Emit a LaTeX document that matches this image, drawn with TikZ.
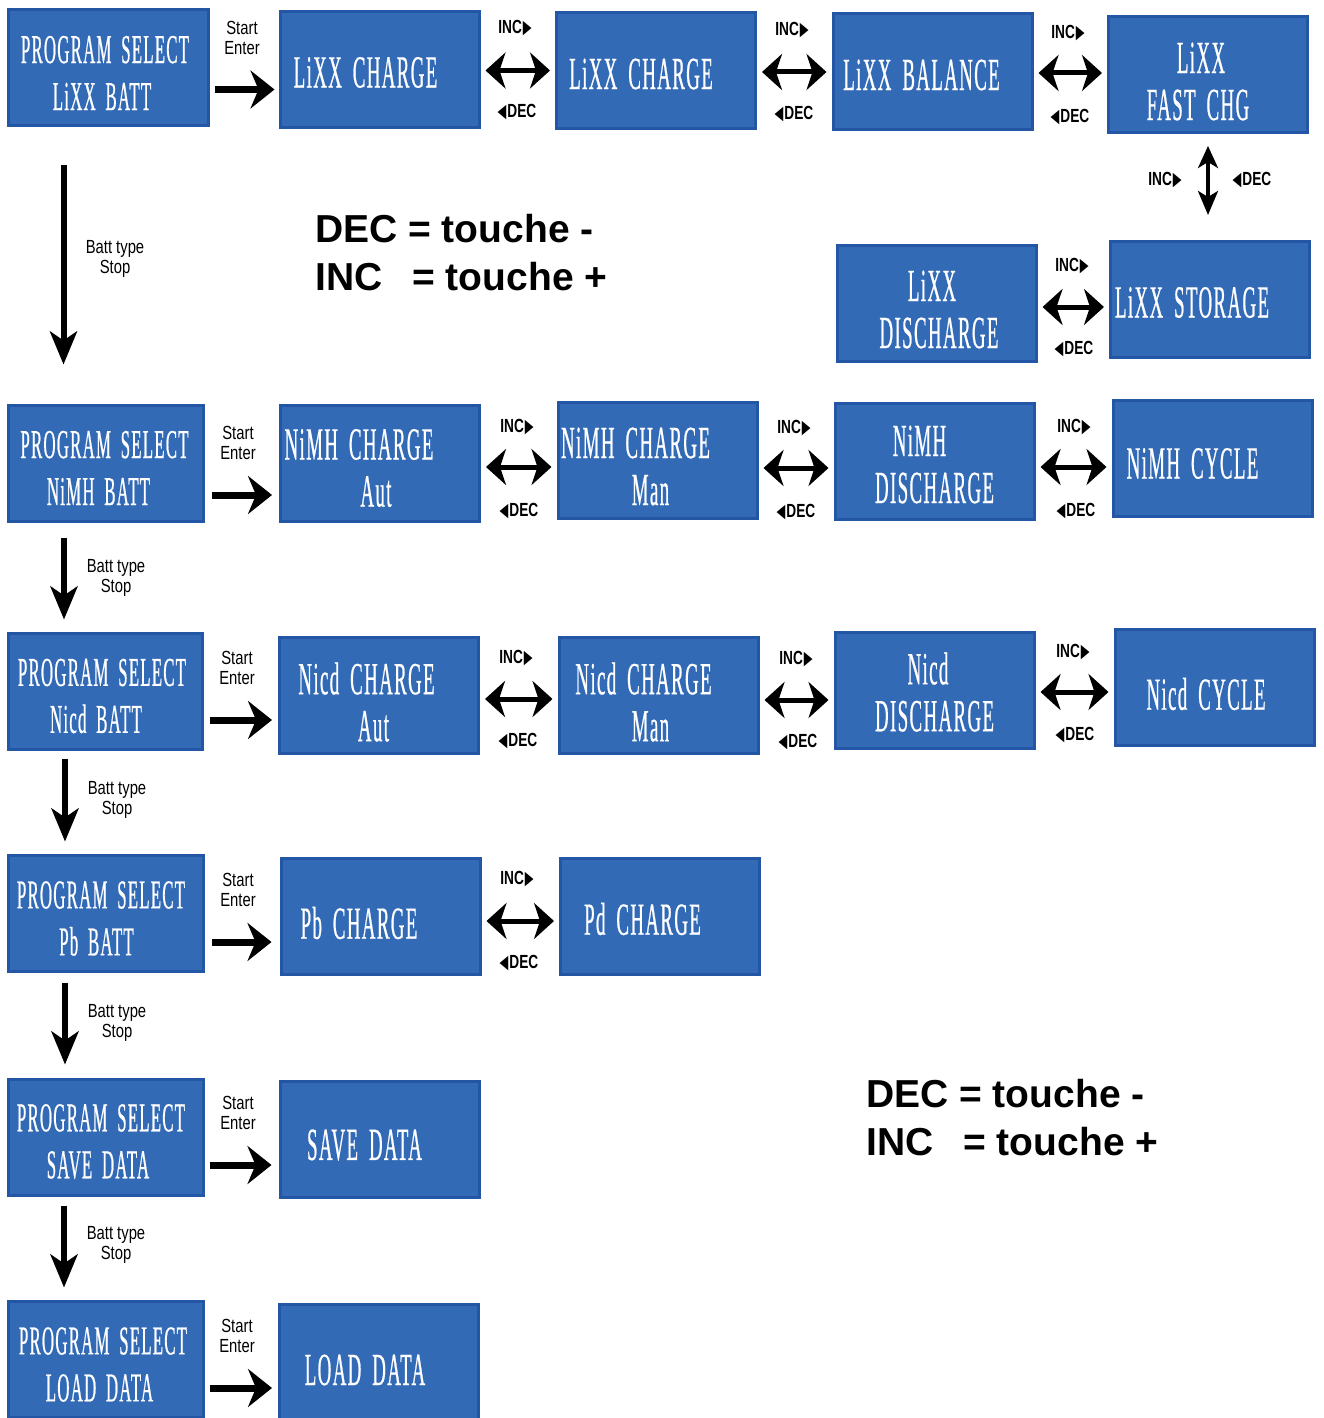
\documentclass[tikz,border=0pt]{standalone}
\usepackage{fontspec}
\setmainfont{Liberation Serif}
\newfontfamily\boxfont{Liberation Serif}[FakeStretch=0.41, LetterSpace=3, WordSpace=1.8, FakeBold=0.5]
\newfontfamily\lblfont{Liberation Sans}[FakeStretch=0.78]
\newfontfamily\incfont{Liberation Sans}[FakeStretch=0.72]
\newfontfamily\trifont{DejaVu Sans}[FakeStretch=0.6]
\newfontfamily\bigfont{Liberation Sans}
\usetikzlibrary{arrows.meta}
\definecolor{boxfill}{RGB}{50,106,182}
\definecolor{boxline}{RGB}{36,86,166}
\tikzset{
  box/.style={draw=boxline, fill=boxfill, line width=3pt, minimum width=199pt, minimum height=116pt, inner sep=0pt},
  psbox/.style={box, minimum width=195pt},
  btxt/.style={text=white, font=\boxfont\fontsize{46}{47}\selectfont, align=center, inner sep=0pt},
  pstxt/.style={btxt, font=\boxfont\fontsize{41}{47}\selectfont},
  sarrow/.style={line width=7pt, -{Stealth[length=24pt,width=38pt,inset=8pt]}},
  varrow/.style={line width=6pt, -{Stealth[length=33pt,width=27pt,inset=9pt]}},
  dbl/.style={line width=5pt, shorten <=5pt, shorten >=5pt, {Stealth[length=20pt,width=36pt,inset=6pt]}-{Stealth[length=20pt,width=36pt,inset=6pt]}},
  vdbl/.style={line width=3.5pt, {Stealth[length=22pt,width=20pt,inset=6pt]}-{Stealth[length=24pt,width=20pt,inset=6pt]}},
  small/.style={font=\lblfont\fontsize{19}{20.5}\selectfont, align=center, inner sep=0pt},
  inc/.style={font=\incfont\bfseries\fontsize{19}{20}\selectfont, inner sep=0pt},
  big/.style={font=\bigfont\bfseries\fontsize{39}{48}\selectfont, anchor=base west, inner sep=0pt}
}
\newcommand{\incl}{INC\kern1pt{\trifont ▶}}
\newcommand{\decl}{{\trifont ◀}\kern1pt DEC}
\begin{document}
\begin{tikzpicture}[x=1pt,y=-1pt]
\fill[white] (0,0) rectangle (1324,1418);
\useasboundingbox (0,0) rectangle (1324,1418);

% ---- boxes ----
\node[box, minimum width=200pt] (ps1) at (108.5,67.5) {};
\node[box] (l1) at (379.5,69.5) {};
\node[box] (l2) at (656,71) {};
\node[box] (l3) at (932.5,72) {};
\node[box] (l4) at (1208,74.5) {};
\node[box] (l5) at (1210,299.5) {};
\node[box] (l6) at (936.5,303.5) {};
\node[psbox] (ps2) at (106,463) {};
\node[box] (n1) at (380,463) {};
\node[box] (n2) at (657.5,460.5) {};
\node[box] (n3) at (934.5,461.5) {};
\node[box] (n4) at (1212.5,458.5) {};
\node[psbox, minimum width=194pt] (ps3) at (105.5,691) {};
\node[box] (c1) at (379,695) {};
\node[box] (c2) at (658.5,695) {};
\node[box] (c3) at (934.5,690) {};
\node[box] (c4) at (1214.5,687) {};
\node[psbox] (ps4) at (106,913) {};
\node[box] (p1) at (380.5,916) {};
\node[box] (p2) at (660,916) {};
\node[psbox] (ps5) at (106,1137) {};
\node[box] (s1) at (379.5,1139.5) {};
\node[psbox] (ps6) at (106,1359) {};
\node[box] (d1) at (379,1362) {};

% ---- box texts ----
\node[pstxt] (tps1) at ([shift={(-3.5,5.5)}]ps1.center) {PROGRAM SELECT\\LiXX BATT\rule{6pt}{0pt}};
\node[btxt] (tl1) at ([shift={(-14,3)}]l1.center) {LiXX CHARGE};
\node[btxt] (tl2) at ([shift={(-15,3)}]l2.center) {LiXX CHARGE};
\node[btxt] (tl3) at ([shift={(-11,3)}]l3.center) {LiXX BALANCE};
\node[btxt] (tl4) at ([shift={(-10,7)}]l4.center) {\rule{6pt}{0pt}LiXX\\FAST CHG};
\node[btxt] (tl5) at ([shift={(-18,3)}]l5.center) {LiXX STORAGE};
\node[btxt] (tl6) at ([shift={(2.5,6)}]l6.center) {LiXX\rule{14pt}{0pt}\\DISCHARGE};
\node[pstxt] (tps2) at ([shift={(-1.5,5)}]ps2.center) {PROGRAM SELECT\\NiMH BATT\rule{12pt}{0pt}};
\node[btxt] (tn1) at ([shift={(-21,5)}]n1.center) {NiMH CHARGE\\\rule{34pt}{0pt}Aut};
\node[btxt] (tn2) at ([shift={(-22,6)}]n2.center) {NiMH CHARGE\\\rule{30pt}{0pt}Man};
\node[btxt] (tn3) at ([shift={(0,3)}]n3.center) {NiMH\rule{30pt}{0pt}\\DISCHARGE};
\node[btxt] (tn4) at ([shift={(-20,5)}]n4.center) {NiMH CYCLE};
\node[pstxt] (tps3) at ([shift={(-3.5,5)}]ps3.center) {PROGRAM SELECT\\Nicd BATT\rule{12pt}{0pt}};
\node[btxt] (tc1) at ([shift={(-12.5,7)}]c1.center) {Nicd CHARGE\\\rule{14pt}{0pt}Aut};
\node[btxt] (tc2) at ([shift={(-15,7)}]c2.center) {Nicd CHARGE\\\rule{14pt}{0pt}Man};
\node[btxt] (tc3) at ([shift={(0,2)}]c3.center) {Nicd\rule{13pt}{0pt}\\DISCHARGE};
\node[btxt] (tc4) at ([shift={(-8.5,7)}]c4.center) {Nicd CYCLE};
\node[pstxt] (tps4) at ([shift={(-5,5.5)}]ps4.center) {PROGRAM SELECT\\Pb BATT\rule{9pt}{0pt}};
\node[btxt] (tp1) at ([shift={(-21.5,7)}]p1.center) {Pb CHARGE};
\node[btxt] (tp2) at ([shift={(-17.5,3)}]p2.center) {Pd CHARGE};
\node[pstxt] (tps5) at ([shift={(-5,4.5)}]ps5.center) {PROGRAM SELECT\\SAVE DATA\rule{6pt}{0pt}};
\node[btxt] (ts1) at ([shift={(-15,5.5)}]s1.center) {SAVE DATA};
\node[pstxt] (tps6) at ([shift={(-3,5.5)}]ps6.center) {PROGRAM SELECT\\LOAD DATA\rule{7pt}{0pt}};
\node[btxt] (td1) at ([shift={(-14,8)}]d1.center) {LOAD DATA};

% ---- Start / Enter arrows ----
\draw[sarrow, shorten <=5pt, shorten >=4pt] ([yshift=-22pt]ps1.east) -- ([yshift=-22pt]ps1.east -| l1.west);
\draw[sarrow, shorten <=7pt, shorten >=7pt] ([yshift=-32pt]ps2.east) -- ([yshift=-32pt]ps2.east -| n1.west);
\draw[sarrow, shorten <=6pt, shorten >=6pt] ([yshift=-29pt]ps3.east) -- ([yshift=-29pt]ps3.east -| c1.west);
\draw[sarrow, shorten <=7pt, shorten >=8pt] ([yshift=-29pt]ps4.east) -- ([yshift=-29pt]ps4.east -| p1.west);
\draw[sarrow, shorten <=5pt, shorten >=7pt] ([yshift=-28pt]ps5.east) -- ([yshift=-28pt]ps5.east -| s1.west);
\draw[sarrow, shorten <=5pt, shorten >=6pt] ([yshift=-29pt]ps6.east) -- ([yshift=-29pt]ps6.east -| d1.west);
\node[small] (se1) at (242,38) {Start\\Enter};
\node[small] (se2) at (238,443) {Start\\Enter};
\node[small] (se3) at (237,668) {Start\\Enter};
\node[small] (se4) at (238,890) {Start\\Enter};
\node[small] (se5) at (238,1113) {Start\\Enter};
\node[small] (se6) at (237,1336) {Start\\Enter};

% ---- Batt type / Stop arrows ----
\draw[varrow, shorten <=38pt, shorten >=39pt] ([xshift=-45pt]ps1.south) -- ([xshift=-45pt]ps1.south |- ps2.north);
\draw[varrow, shorten <=15pt, shorten >=12pt] ([xshift=-42pt]ps2.south) -- ([xshift=-42pt]ps2.south |- ps3.north);
\draw[varrow, shorten <=8pt, shorten >=12pt] ([xshift=-40.5pt]ps3.south) -- ([xshift=-40.5pt]ps3.south |- ps4.north);
\draw[varrow, shorten <=10pt, shorten >=13pt] ([xshift=-41pt]ps4.south) -- ([xshift=-41pt]ps4.south |- ps5.north);
\draw[varrow, shorten <=9pt, shorten >=12pt] ([xshift=-42pt]ps5.south) -- ([xshift=-42pt]ps5.south |- ps6.north);
\node[small] (bt1) at (115,259) {Batt type\\Stop};
\node[small] (bt2) at (116,578) {Batt type\\Stop};
\node[small] (bt3) at (117,800) {Batt type\\Stop};
\node[small] (bt4) at (117,1023) {Batt type\\Stop};
\node[small] (bt5) at (116,1245) {Batt type\\Stop};

% ---- INC / DEC double arrows ----
\draw[dbl] ([yshift=-1pt]l1.east) -- ([yshift=-1pt]l1.east -| l2.west);
\draw[dbl] ([yshift=-1pt]l2.east) -- ([yshift=-1pt]l2.east -| l3.west);
\draw[dbl] ([yshift=-1pt]l3.east) -- ([yshift=-1pt]l3.east -| l4.west);
\draw[dbl] ([yshift=-3.5pt]l6.east) -- ([yshift=-3.5pt]l6.east -| l5.west);
\draw[dbl] ([yshift=-4pt]n1.east) -- ([yshift=-4pt]n1.east -| n2.west);
\draw[dbl] ([yshift=-7.5pt]n2.east) -- ([yshift=-7.5pt]n2.east -| n3.west);
\draw[dbl] ([yshift=-5.5pt]n3.east) -- ([yshift=-5.5pt]n3.east -| n4.west);
\draw[dbl] ([yshift=-4pt]c1.east) -- ([yshift=-4pt]c1.east -| c2.west);
\draw[dbl] ([yshift=-5pt]c2.east) -- ([yshift=-5pt]c2.east -| c3.west);
\draw[dbl] ([yshift=-2pt]c3.east) -- ([yshift=-2pt]c3.east -| c4.west);
\draw[dbl] ([yshift=-5pt]p1.east) -- ([yshift=-5pt]p1.east -| p2.west);
\draw[vdbl, shorten <=12pt, shorten >=25pt] (l4.south) -- (l4.south |- l5.north);

\node[inc] (i1a) at (515,28) {\incl};   \node[inc] (d1a) at (517,112) {\decl};
\node[inc] (i1b) at (792,30) {\incl};   \node[inc] (d1b) at (794,114) {\decl};
\node[inc] (i1c) at (1068,33) {\incl};  \node[inc] (d1c) at (1070,117) {\decl};
\node[inc] (ivv) at (1165,180) {\incl}; \node[inc] (dvv) at (1252,180) {\decl};
\node[inc] (i1d) at (1072,266) {\incl}; \node[inc] (d1d) at (1074,349) {\decl};
\node[inc] (i2a) at (517,427) {\incl};  \node[inc] (d2a) at (519,511) {\decl};
\node[inc] (i2b) at (794,428) {\incl};  \node[inc] (d2b) at (796,512) {\decl};
\node[inc] (i2c) at (1074,427) {\incl}; \node[inc] (d2c) at (1076,511) {\decl};
\node[inc] (i3a) at (516,658) {\incl};  \node[inc] (d3a) at (518,741) {\decl};
\node[inc] (i3b) at (796,659) {\incl};  \node[inc] (d3b) at (798,742) {\decl};
\node[inc] (i3c) at (1073,652) {\incl}; \node[inc] (d3c) at (1075,735) {\decl};
\node[inc] (i4a) at (517,879) {\incl};  \node[inc] (d4a) at (519,963) {\decl};

% ---- legend texts ----
\node[big] (leg1a) at (315,242) {DEC = touche -};
\node[big] (leg1b) at (315,290) {\makebox[2.49em][l]{INC}= touche +};
\node[big] (leg2a) at (866,1107) {DEC = touche -};
\node[big] (leg2b) at (866,1155) {\makebox[2.49em][l]{INC}= touche +};
\end{tikzpicture}
\end{document}
